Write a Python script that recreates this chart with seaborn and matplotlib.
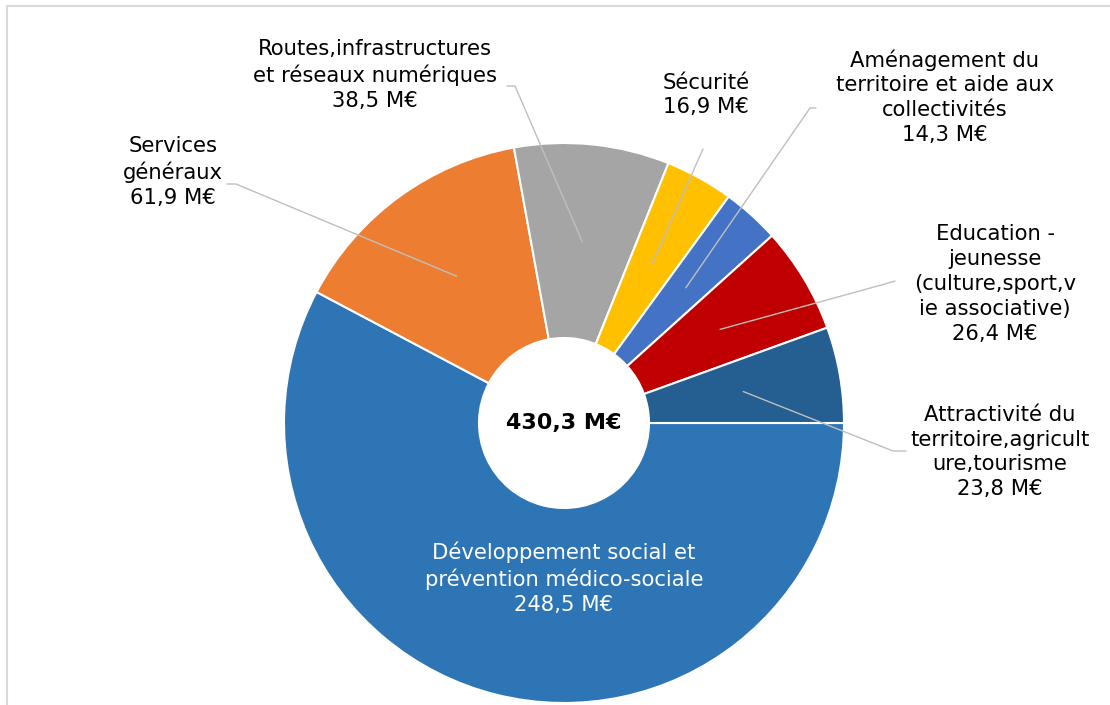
import numpy as np
import matplotlib
matplotlib.use("Agg")
import matplotlib.pyplot as plt
import seaborn as sns

# ---------------- data ----------------
categories = ["Développement social et\nprévention médico-sociale",
              "Services\ngénéraux",
              "Routes,infrastructures\net réseaux numériques",
              "Sécurité",
              "Aménagement du\nterritoire et aide aux\ncollectivités",
              "Education -\njeunesse\n(culture,sport,v\nie associative)",
              "Attractivité du\nterritoire,agricult\nure,tourisme"]
values = [248.5, 61.9, 38.5, 16.9, 14.3, 26.4, 23.8]
value_labels = ["248,5 M€", "61,9 M€", "38,5 M€", "16,9 M€", "14,3 M€", "26,4 M€", "23,8 M€"]
total_label = "430,3 M€"
colors = ["#2E75B6", "#ED7D31", "#A5A5A5", "#FFC000", "#4472C4", "#C00000", "#255E91"]

# ---------------- layout (pixel coords, y from top) ----------------
W, H = 1110, 705
CX, CY, R = 564, 423, 280
HOLE = 85
label_pos = [(564, 578), (173, 172), (375, 75), (706, 95), (945, 97), (995, 284), (1000, 452)]
# leader line: text-side points (first = start at label), None = no leader
leader_pts = [None,
              [(227, 184), (236, 184)],
              [(507, 86), (515, 86)],
              [(703, 149)],
              [(816, 108), (810, 108)],
              [(895, 281), (885, 284)],
              [(906, 451), (893, 451)]]

sns.set_theme(style="white")
plt.rcParams['font.family'] = ['DejaVu Sans']

fig = plt.figure(figsize=(W / 100, H / 100), dpi=100)
ax = fig.add_axes([0, 0, 1, 1])

def fy(y):
    return H - y

wedges, _ = ax.pie(values, colors=colors, startangle=0, counterclock=False,
                   radius=R, center=(CX, fy(CY)),
                   wedgeprops=dict(width=R - HOLE, edgecolor="white", linewidth=1.5))
ax.set_xlim(0, W)
ax.set_ylim(0, H)
ax.set_aspect("equal")
ax.axis("off")

total = sum(values)
cum = np.cumsum([0] + values[:-1])
for i, (cat, vl) in enumerate(zip(categories, value_labels)):
    mid = -np.deg2rad((cum[i] + values[i] / 2) / total * 360)
    lx, ly = label_pos[i]
    col = "white" if i == 0 else "#000000"
    ax.text(lx, fy(ly), f"{cat}\n{vl}", ha="center", va="center", multialignment="center",
            fontsize=15.2, color=col, linespacing=1.3)
    if leader_pts[i] is not None:
        ax_x = CX + 0.65 * R * np.cos(mid)
        ax_y = fy(CY) + 0.65 * R * np.sin(mid)
        xs = [p[0] for p in leader_pts[i]] + [ax_x]
        ys = [fy(p[1]) for p in leader_pts[i]] + [ax_y]
        ax.plot(xs, ys, color="#BFBFBF", lw=1, zorder=5)

ax.text(CX, fy(CY), total_label, ha="center", va="center", fontsize=16,
        fontweight="bold", color="black")

# chart frame (top and left edges visible)
ax.plot([7, W + 5], [fy(6), fy(6)], color="#D9D9D9", lw=1.5, clip_on=False)
ax.plot([7, 7], [fy(6), -5], color="#D9D9D9", lw=1.5, clip_on=False)

fig.savefig("out.png", dpi=100)
